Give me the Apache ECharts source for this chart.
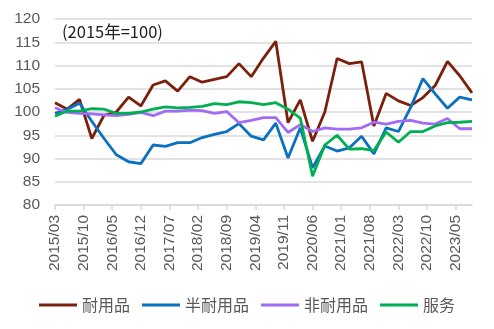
<!DOCTYPE html>
<html>
<head>
<meta charset="utf-8">
<script src="https://cdn.jsdelivr.net/npm/echarts@6/dist/echarts.min.js"></script>
<style>
  html, body { margin: 0; padding: 0; background: #fff; }
  #chart { width: 494px; height: 329px; }
</style>
</head>
<body>
<div id="chart"></div>
<script>
// Quarterly price indices (2015 = 100), first quarter ending 2015/03
const quarterStart = { year: 2015, month: 3 };
const durable    = [102.0,100.6,102.7,94.3,99.3,100.0,103.2,101.3,105.8,106.7,104.5,107.6,106.4,107.0,107.6,110.4,107.6,111.6,115.2,97.7,102.6,93.7,100.0,111.5,110.4,110.8,97.0,104.0,102.4,101.4,103.1,105.7,110.9,107.8,104.1];
const semiDurable = [99.7,100.6,101.9,98.0,94.3,90.8,89.3,88.9,92.9,92.6,93.4,93.4,94.5,95.2,95.8,97.5,94.8,94.0,97.6,90.1,96.6,88.0,92.7,91.6,92.3,94.8,91.0,96.6,95.8,101.0,107.2,103.9,100.8,103.2,102.6];
const nonDurable = [100.9,99.9,99.7,99.6,99.4,99.2,99.5,99.9,99.2,100.2,100.2,100.4,100.3,99.7,100.1,97.7,98.2,98.8,98.8,95.6,97.3,95.8,96.6,96.3,96.3,96.6,97.8,97.4,98.0,98.2,97.6,97.4,98.6,96.4,96.4];
const services   = [99.1,100.2,100.2,100.7,100.6,99.7,99.7,100.0,100.6,101.1,100.9,101.0,101.2,101.8,101.6,102.2,102.0,101.6,102.0,100.6,98.7,86.2,92.9,95.0,92.0,92.1,91.7,95.7,93.5,95.8,95.8,97.0,97.7,97.8,98.0];

const seriesNames = ['耐用品', '半耐用品', '非耐用品', '服务'];
const seriesColors = ['#7B200C', '#0A70C0', '#A06BF5', '#00AF50'];
const yTicks = { min: 80, max: 120, step: 5 };

// Monthly category axis; quarterly values sit on every third month
const monthCount = (durable.length - 1) * 3 + 1;
const months = [];
for (let m = 0; m < monthCount; m++) {
  const total = quarterStart.month - 1 + m;
  const y = quarterStart.year + Math.floor(total / 12);
  const mo = (total % 12) + 1;
  months.push(y + '/' + String(mo).padStart(2, '0'));
}
function toMonthly(q) {
  return months.map((_, m) => (m % 3 === 0 ? q[m / 3] : null));
}

const chart = echarts.init(document.getElementById('chart'), null, { renderer: 'canvas' });
const sans = '"Liberation Sans", "Noto Sans CJK SC", sans-serif';
const cjk = '"Noto Sans CJK SC", "Liberation Sans", sans-serif';

chart.setOption({
  animation: false,
  backgroundColor: '#ffffff',
  grid: { left: 55, right: 22, top: 19, bottom: 124, containLabel: false },
  graphic: [{
    type: 'text', left: 62, top: 23,
    style: { text: '(2015年=100)', font: '16.5px ' + cjk, fill: '#222222' }
  }],
  legend: {
    bottom: 11, left: 'center',
    itemWidth: 38, itemHeight: 3, itemGap: 12, icon: 'rect',
    textStyle: { fontFamily: cjk, fontSize: 16, color: '#595959' },
    data: seriesNames
  },
  xAxis: {
    type: 'category', data: months, boundaryGap: false,
    axisLine: { lineStyle: { color: '#d9d9d9', width: 1.5 } },
    axisTick: { show: true, interval: 6, length: 5, lineStyle: { color: '#d9d9d9', width: 1.5 } },
    axisLabel: { interval: 6, rotate: 90, margin: 10, color: '#595959', fontFamily: sans, fontSize: 15.5 }
  },
  yAxis: {
    type: 'value', min: yTicks.min, max: yTicks.max, interval: yTicks.step,
    axisLine: { show: false }, axisTick: { show: false },
    axisLabel: { margin: 15, color: '#595959', fontFamily: sans, fontSize: 15.5 },
    splitLine: { lineStyle: { color: '#d9d9d9', width: 1.5 } }
  },
  series: [durable, semiDurable, nonDurable, services].map((arr, k) => ({
    name: seriesNames[k], type: 'line', data: toMonthly(arr),
    connectNulls: true, showSymbol: false, symbol: 'none',
    lineStyle: { color: seriesColors[k], width: 2.8 },
    itemStyle: { color: seriesColors[k] }
  }))
});
</script>
</body>
</html>
